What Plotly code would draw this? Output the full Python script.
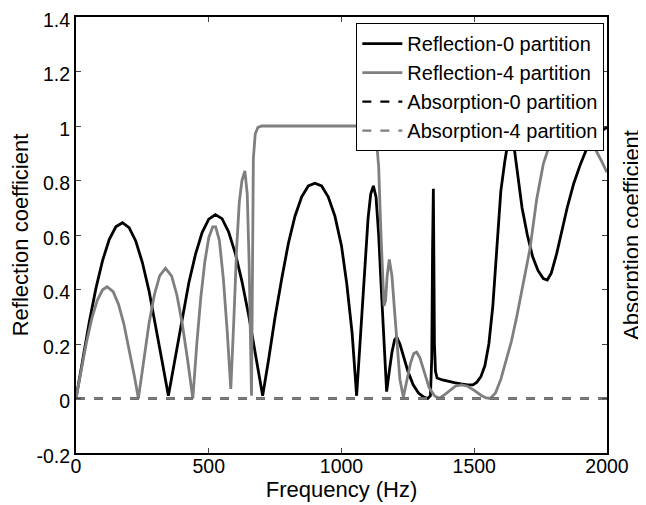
import plotly.graph_objects as go

# Reflection-0 partition (black)
freq_r0 = [0, 25, 50, 75, 100, 125, 150, 175, 200, 225, 250, 275, 300, 325, 348,
           375, 400, 425, 450, 475, 500, 525, 550, 575, 600, 625, 650, 675, 703,
           725, 750, 775, 800, 825, 850, 875, 900, 925, 950, 975, 1000, 1020, 1040, 1057,
           1070, 1085, 1100, 1110, 1120, 1130, 1140, 1150, 1160, 1170,
           1180, 1190, 1200, 1208, 1220, 1235, 1250, 1270, 1290, 1310, 1325,
           1335, 1340, 1343, 1346, 1348, 1350, 1354, 1360, 1380, 1400, 1425, 1450, 1475, 1495,
           1510, 1525, 1540, 1555, 1570, 1585, 1600, 1615, 1625, 1635, 1645, 1660, 1680, 1700,
           1720, 1740, 1760, 1775, 1790, 1810, 1830, 1850, 1875, 1900, 1925, 1950, 1975, 2000]
refl_0 = [0.0, 0.144, 0.281, 0.404, 0.506, 0.583, 0.630, 0.645, 0.627, 0.578, 0.499, 0.395, 0.271, 0.133, 0.01,
          0.16, 0.30, 0.425, 0.529, 0.609, 0.658, 0.675, 0.66, 0.611, 0.533, 0.43, 0.307, 0.166, 0.01,
          0.14, 0.30, 0.44, 0.57, 0.67, 0.74, 0.78, 0.79, 0.78, 0.74, 0.67, 0.56, 0.42, 0.24, 0.01,
          0.2, 0.45, 0.66, 0.75, 0.78, 0.74, 0.6, 0.4, 0.2, 0.025,
          0.1, 0.17, 0.215, 0.225, 0.2, 0.15, 0.1, 0.05, 0.02, 0.005, 0.0,
          0.01, 0.15, 0.55, 0.77, 0.5, 0.2, 0.1, 0.075, 0.068, 0.063, 0.058, 0.054, 0.05, 0.05,
          0.06, 0.08, 0.12, 0.2, 0.34, 0.55, 0.76, 0.87, 0.94, 0.99, 0.96, 0.84, 0.7, 0.6,
          0.52, 0.47, 0.44, 0.435, 0.46, 0.53, 0.62, 0.70, 0.79, 0.86, 0.92, 0.96, 0.98, 0.995]

# Reflection-4 partition (grey)
freq_r4 = [0, 20, 40, 60, 80, 100, 117, 140, 160, 180, 200, 220, 235,
           255, 275, 295, 315, 337, 360, 380, 400, 420, 440,
           455, 470, 485, 500, 515, 526, 540, 555, 570, 583,
           595, 605, 615, 625, 636, 645, 652, 657, 661, 665, 668, 675, 685, 700,
           800, 900, 1000, 1100, 1120, 1130, 1140, 1148, 1155, 1160, 1166, 1172, 1180,
           1190, 1200, 1210, 1220, 1233, 1245, 1260, 1272, 1283, 1295, 1310, 1330, 1350, 1368,
           1390, 1410, 1430, 1453, 1475, 1500, 1525, 1545, 1560, 1580, 1600, 1620, 1640, 1660,
           1680, 1700, 1710, 1735, 1760, 1780, 1800, 1830, 1860, 1890, 1920, 1940, 1960, 1980, 2000]
refl_4 = [0.0, 0.108, 0.209, 0.295, 0.36, 0.399, 0.41, 0.392, 0.346, 0.275, 0.185, 0.082, 0.0,
          0.144, 0.275, 0.38, 0.45, 0.478, 0.45, 0.38, 0.275, 0.144, 0.0,
          0.2, 0.37, 0.5, 0.59, 0.63, 0.63, 0.58, 0.44, 0.24, 0.035,
          0.3, 0.55, 0.72, 0.8, 0.835, 0.75, 0.5, 0.2, 0.01, 0.5, 0.88, 0.97, 0.995, 1.0,
          1.0, 1.0, 1.0, 1.0, 1.0, 0.97, 0.85, 0.62, 0.42, 0.34, 0.36, 0.45, 0.51,
          0.45, 0.32, 0.18, 0.07, 0.005, 0.06, 0.13, 0.165, 0.17, 0.15, 0.1, 0.04, 0.01, 0.0,
          0.015, 0.032, 0.046, 0.05, 0.045, 0.03, 0.012, 0.002, 0.0, 0.02, 0.07, 0.14, 0.21, 0.3,
          0.4, 0.5, 0.55, 0.73, 0.86, 0.92, 0.96, 0.985, 0.99, 0.975, 0.96, 0.945, 0.91, 0.87, 0.83]

# Absorption coefficients
freq_abs = [0, 2000]
abs_0 = [0.0, 0.0]
abs_4 = [0.0, 0.0]

x_ticks = [0, 500, 1000, 1500, 2000]
y_ticks = [-0.2, 0, 0.2, 0.4, 0.6, 0.8, 1, 1.2, 1.4]
y_tick_text = ["-0.2", "0", "0.2", "0.4", "0.6", "0.8", "1", "1.2", "1.4"]

FONT = "Liberation Sans, Arial, sans-serif"
GREY = "#7f7f7f"

fig = go.Figure()
fig.add_trace(go.Scatter(x=freq_r0, y=refl_0, mode="lines", name="Reflection-0 partition",
                         line=dict(color="black", width=2.8)))
fig.add_trace(go.Scatter(x=freq_r4, y=refl_4, mode="lines", name="Reflection-4 partition",
                         line=dict(color=GREY, width=2.8)))
fig.add_trace(go.Scatter(x=freq_abs, y=abs_0, mode="lines", name="Absorption-0 partition",
                         line=dict(color="black", width=2.4, dash="dash"), yaxis="y2"))
fig.add_trace(go.Scatter(x=freq_abs, y=abs_4, mode="lines", name="Absorption-4 partition",
                         line=dict(color=GREY, width=2.4, dash="dash"), yaxis="y2"))

# page body adds an 8px offset, so the figure is sized to fit the window
fig.update_layout(
    width=638, height=497,
    margin=dict(l=68, r=39, t=9, b=52, autoexpand=False),
    paper_bgcolor="white", plot_bgcolor="white",
    font=dict(family=FONT, size=20, color="black"),
    showlegend=True,
    legend=dict(x=0.995, y=0.986, xanchor="right", yanchor="top",
                bgcolor="white", bordercolor="black", borderwidth=1,
                font=dict(size=20, family=FONT), tracegroupgap=0, itemwidth=40),
    xaxis=dict(range=[0, 2000], tickvals=x_ticks, ticks="inside", ticklen=5,
               showline=True, linecolor="black", linewidth=2, mirror="ticks",
               showgrid=False, zeroline=False, automargin=False,
               ticklabelstandoff=-5,
               title=dict(text="Frequency (Hz)", font=dict(size=22), standoff=1),
               tickfont=dict(size=19.5)),
    yaxis=dict(range=[-0.2, 1.4], tickvals=y_ticks, ticktext=y_tick_text,
               ticks="inside", ticklen=5, showline=True, linecolor="black", linewidth=2,
               showgrid=False, zeroline=False, automargin=False,
               ticklabeloverflow="allow", ticklabelshift=3,
               title=dict(text="Reflection coefficient", font=dict(size=22), standoff=4),
               tickfont=dict(size=19.5)),
    yaxis2=dict(range=[-0.2, 1.4], tickvals=y_ticks, showticklabels=False,
                overlaying="y", side="right", ticks="inside", ticklen=5,
                showline=True, linecolor="black", linewidth=2,
                showgrid=False, zeroline=False, automargin=False,
                title=dict(text="Absorption coefficient", font=dict(size=22), standoff=16)),
)

fig.write_html("out.html")
